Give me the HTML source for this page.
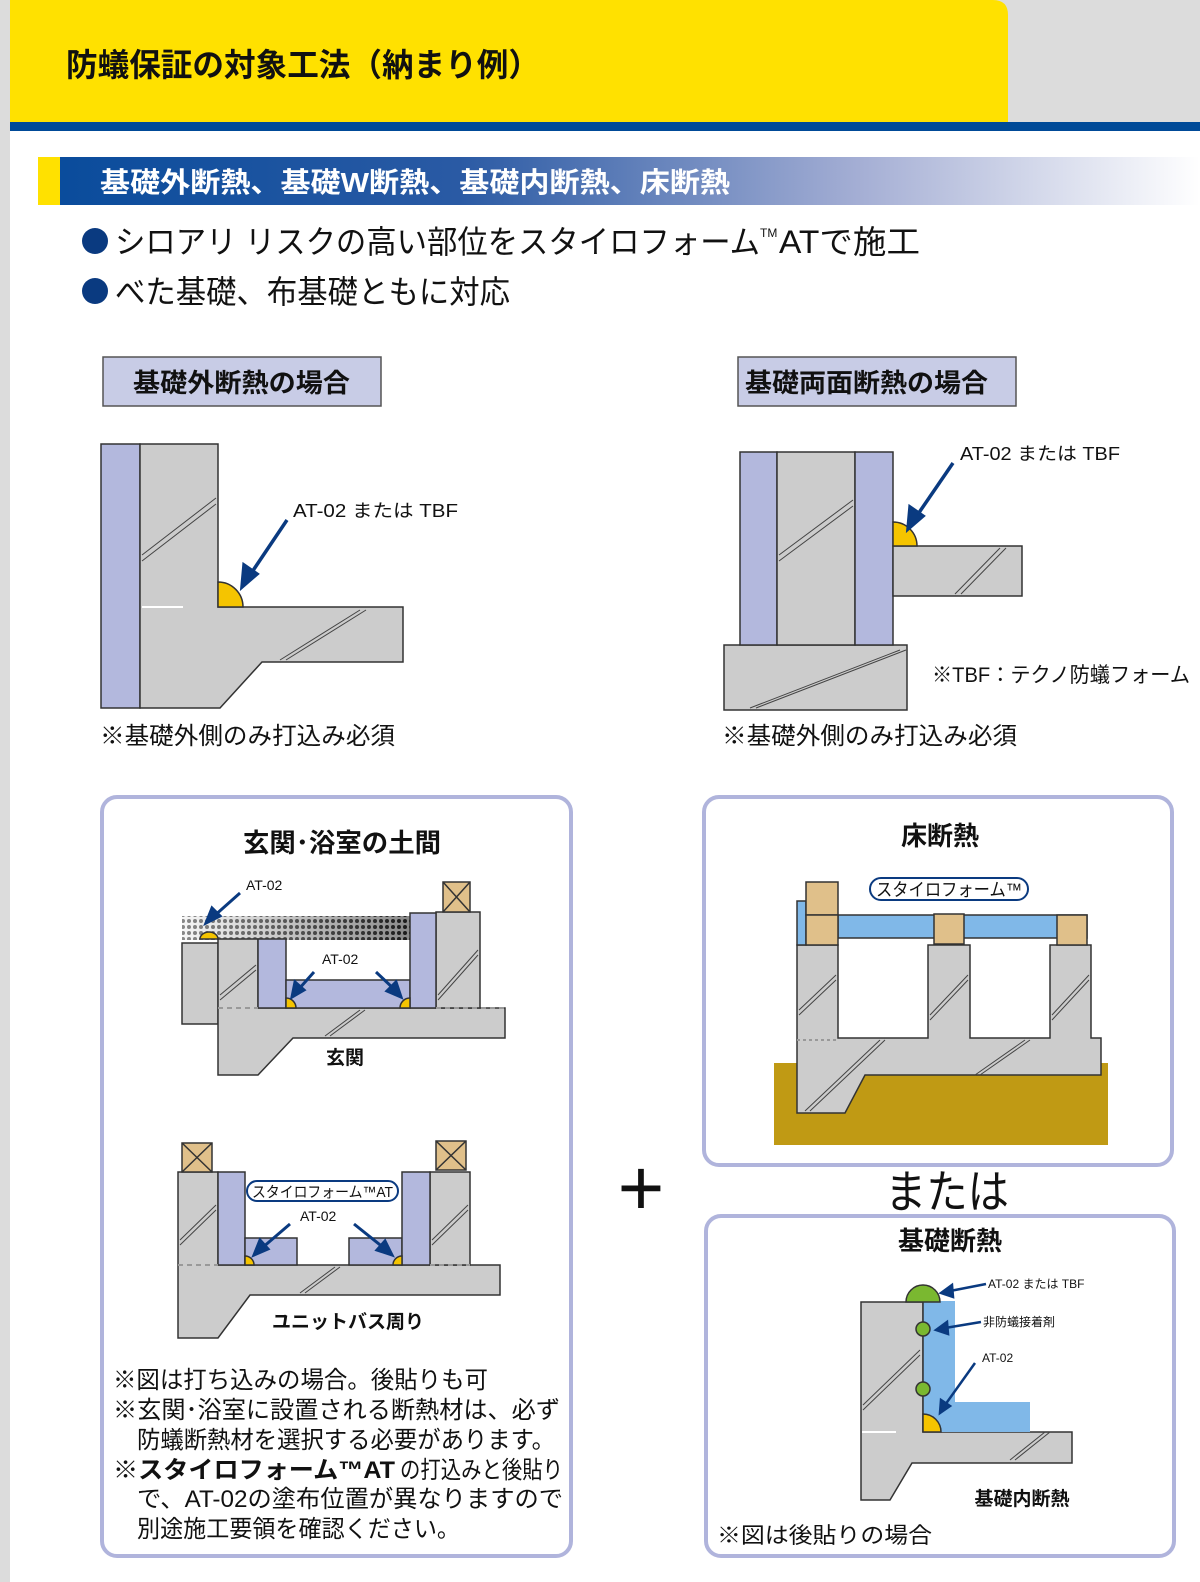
<!DOCTYPE html>
<html><head><meta charset="utf-8"><style>
html,body{margin:0;padding:0;background:#fff}
svg{display:block}
text{font-family:"Liberation Sans","Noto Sans CJK JP",sans-serif}
</style></head><body>
<svg width="1200" height="1582" viewBox="0 0 1200 1582" xmlns="http://www.w3.org/2000/svg">
<defs>
<linearGradient id="hg" x1="0" x2="1" y1="0" y2="0">
<stop offset="0" stop-color="#0a4c9c"/><stop offset="0.35" stop-color="#2a5aa4"/><stop offset="0.7" stop-color="#a4aed4"/><stop offset="1" stop-color="#fff"/>
</linearGradient>
<linearGradient id="dg" x1="0" x2="1"><stop offset="0" stop-color="#eee"/><stop offset="1" stop-color="#111"/></linearGradient>
<pattern id="dots" width="6" height="6" patternUnits="userSpaceOnUse"><rect width="6" height="6" fill="#fff"/><circle cx="3" cy="3" r="2" fill="#222"/></pattern>
</defs>
<rect width="1200" height="1582" fill="#dcdcdc"/>
<rect x="10" y="131" width="1190" height="1451" fill="#fff"/>
<path d="M10 0 H993 Q1008 0 1008 15 V122 H10Z" fill="#ffe100"/>
<rect x="10" y="122" width="1190" height="9" fill="#004a98"/>
<text x="66" y="76" font-size="32" font-weight="bold" fill="#111" textLength="474" lengthAdjust="spacingAndGlyphs">防蟻保証の対象工法（納まり例）</text>
<rect x="38" y="157" width="22" height="48" fill="#ffe100"/>
<rect x="60" y="157" width="1140" height="48" fill="url(#hg)"/>
<text x="100" y="192" font-size="28" font-weight="bold" fill="#fff" textLength="630" lengthAdjust="spacingAndGlyphs">基礎外断熱、基礎W断熱、基礎内断熱、床断熱</text>
<circle cx="95" cy="241" r="13" fill="#0a3a80"/>
<text x="115" y="253" font-size="32" fill="#111" textLength="645" lengthAdjust="spacingAndGlyphs">シロアリ リスクの高い部位をスタイロフォーム</text>
<text x="760" y="237" font-size="12" fill="#111">TM</text>
<text x="779" y="253" font-size="32" fill="#111" textLength="141" lengthAdjust="spacingAndGlyphs">ATで施工</text>
<circle cx="95" cy="291" r="13" fill="#0a3a80"/>
<text x="115" y="303" font-size="32" fill="#111" textLength="395" lengthAdjust="spacingAndGlyphs">べた基礎、布基礎ともに対応</text>

<rect x="103" y="357" width="278" height="49" fill="#c8cce6" stroke="#555" stroke-width="1.5"/>
<text x="133" y="392" font-size="26" font-weight="bold" fill="#111" textLength="217" lengthAdjust="spacingAndGlyphs">基礎外断熱の場合</text>
<rect x="738" y="357" width="278" height="49" fill="#c8cce6" stroke="#555" stroke-width="1.5"/>
<text x="745" y="392" font-size="26" font-weight="bold" fill="#111" textLength="243" lengthAdjust="spacingAndGlyphs">基礎両面断熱の場合</text>

<g stroke="#333" stroke-width="1.5">
<rect x="101" y="444" width="39" height="264" fill="#b3b8dd"/>
<path d="M140 444 H218 V607 H403 V662 H262 L220 708 H140Z" fill="#cccccc"/>
<path d="M218 607 V582 A25 25 0 0 1 243 607Z" fill="#f5c400"/>
<rect x="724" y="645" width="183" height="65" fill="#cccccc"/>
<rect x="740" y="452" width="37" height="193" fill="#b3b8dd"/>
<rect x="777" y="452" width="78" height="193" fill="#cccccc"/>
<rect x="855" y="452" width="38" height="193" fill="#b3b8dd"/>
<rect x="893" y="546" width="129" height="50" fill="#cccccc"/>
<path d="M893 546 V522 A24 24 0 0 1 917 546Z" fill="#f5c400"/>
</g>
<g stroke="#444" stroke-width="1"><path d="M142 555 L216 498 M142 561 L216 504"/><path d="M280 660 L360 610 M286 660 L366 610"/><path d="M779 555 L853 500 M779 561 L853 506"/><path d="M750 708 L900 650 M756 708 L906 650"/><path d="M955 594 L1000 548 M961 594 L1006 548"/></g>
<path d="M142 607 H183" stroke="#fff" stroke-width="2"/>
<g stroke="#0a3a80" stroke-width="3.5" fill="#0a3a80">
<line x1="287" y1="520" x2="250" y2="575"/><path d="M242 587 L244 565 L257 574Z"/>
<line x1="953" y1="463" x2="916" y2="517"/><path d="M908 529 L910 507 L923 516Z"/>
</g>
<text x="293" y="517" font-size="18" fill="#111" textLength="165" lengthAdjust="spacingAndGlyphs">AT-02 または TBF</text>
<text x="960" y="460" font-size="18" fill="#111" textLength="160" lengthAdjust="spacingAndGlyphs">AT-02 または TBF</text>
<text x="932" y="682" font-size="21" fill="#111" textLength="258" lengthAdjust="spacingAndGlyphs">※TBF：テクノ防蟻フォーム</text>
<text x="100" y="744" font-size="24" fill="#111" textLength="295" lengthAdjust="spacingAndGlyphs">※基礎外側のみ打込み必須</text>
<text x="722" y="744" font-size="24" fill="#111" textLength="295" lengthAdjust="spacingAndGlyphs">※基礎外側のみ打込み必須</text>

<rect x="102" y="797" width="469" height="759" rx="15" fill="#fff" stroke="#b0b4dc" stroke-width="4"/>
<rect x="704" y="797" width="468" height="368" rx="15" fill="#fff" stroke="#b0b4dc" stroke-width="4"/>
<rect x="706" y="1216" width="468" height="340" rx="15" fill="#fff" stroke="#b0b4dc" stroke-width="4"/>
<text x="641" y="1215" font-size="80" text-anchor="middle" fill="#111">+</text>
<text x="885" y="1208" font-size="46" fill="#111" textLength="124" lengthAdjust="spacingAndGlyphs">または</text>

<text x="243" y="852" font-size="26" font-weight="bold" fill="#111" textLength="198" lengthAdjust="spacingAndGlyphs">玄関･浴室の土間</text>
<rect x="182" y="916" width="230" height="24" fill="url(#dots)"/>
<rect x="182" y="916" width="230" height="24" fill="url(#dg)" opacity="0.5"/>
<g stroke="#333" stroke-width="1.5">
<rect x="182" y="943" width="36" height="81" fill="#cccccc"/>
<path d="M218 939 H258 V1008 H505 V1038 H293 L258 1075 H218Z" fill="#cccccc"/>
<rect x="436" y="912" width="44" height="96" fill="#cccccc"/>
<rect x="258" y="939" width="28" height="69" fill="#b3b8dd"/>
<rect x="286" y="980" width="124" height="28" fill="#b3b8dd"/>
<rect x="410" y="913" width="26" height="95" fill="#b3b8dd"/>
<rect x="443" y="882" width="27" height="30" fill="#e0c08a"/><path d="M443 882 L470 912 M470 882 L443 912"/>
<path d="M200 939 A9 7 0 0 1 218 939Z" fill="#f5c400"/>
<path d="M286 1008 V998 A10 10 0 0 1 296 1008Z" fill="#f5c400"/>
<path d="M410 1008 V998 A10 10 0 0 0 400 1008Z" fill="#f5c400"/>
</g>
<g stroke="#444"><path d="M220 995 L256 965 M220 1000 L256 970 M438 995 L478 950 M438 1000 L478 955 M325 1036 L360 1010 M330 1036 L365 1010"/></g>
<path d="M218 1008 H258 M436 1008 H505" stroke="#999" stroke-dasharray="5 4" stroke-width="2"/>
<g stroke="#0a3a80" stroke-width="3" fill="#0a3a80">
<line x1="240" y1="893" x2="213" y2="917"/><path d="M206 923 L212 908 L220 916Z"/>
<line x1="314" y1="972" x2="298" y2="990"/><path d="M292 997 L295 982 L304 990Z"/>
<line x1="376" y1="972" x2="395" y2="990"/><path d="M401 997 L387 991 L396 982Z"/>
</g>
<text x="246" y="890" font-size="14" fill="#111">AT-02</text>
<text x="322" y="964" font-size="14" fill="#111">AT-02</text>
<text x="345" y="1064" font-size="19" font-weight="bold" text-anchor="middle" fill="#111">玄関</text>

<g stroke="#333" stroke-width="1.5">
<path d="M178 1172 H218 V1265 H500 V1295 H250 L218 1338 H178Z" fill="#cccccc"/>
<rect x="430" y="1172" width="40" height="93" fill="#cccccc"/>
<rect x="218" y="1172" width="27" height="93" fill="#b3b8dd"/>
<rect x="245" y="1238" width="52" height="27" fill="#b3b8dd"/>
<rect x="349" y="1238" width="53" height="27" fill="#b3b8dd"/>
<rect x="402" y="1172" width="28" height="93" fill="#b3b8dd"/>
<rect x="182" y="1143" width="30" height="29" fill="#e0c08a"/><path d="M182 1143 L212 1172 M212 1143 L182 1172"/>
<rect x="436" y="1141" width="30" height="29" fill="#e0c08a"/><path d="M436 1141 L466 1170 M466 1141 L436 1170"/>
<path d="M245 1265 V1256 A9 9 0 0 1 254 1265Z" fill="#f5c400"/>
<path d="M402 1265 V1256 A9 9 0 0 0 393 1265Z" fill="#f5c400"/>
</g>
<g stroke="#444"><path d="M180 1240 L216 1205 M180 1245 L216 1210 M432 1240 L468 1205 M432 1245 L468 1210 M300 1293 L335 1267 M305 1293 L340 1267"/></g>
<path d="M178 1265 H218 M430 1265 H470" stroke="#999" stroke-dasharray="5 4" stroke-width="2"/>
<rect x="247" y="1181" width="151" height="20" rx="10" fill="#fff" stroke="#0a3a80" stroke-width="2"/>
<text x="252" y="1197" font-size="15" fill="#111" textLength="141" lengthAdjust="spacingAndGlyphs">スタイロフォーム™AT</text>
<text x="300" y="1221" font-size="14" fill="#111">AT-02</text>
<g stroke="#0a3a80" stroke-width="3" fill="#0a3a80">
<line x1="290" y1="1224" x2="262" y2="1248"/><path d="M254 1255 L260 1240 L268 1249Z"/>
<line x1="354" y1="1224" x2="384" y2="1248"/><path d="M392 1255 L377 1250 L385 1241Z"/>
</g>
<text x="348" y="1328" font-size="19" font-weight="bold" text-anchor="middle" fill="#111">ユニットバス周り</text>

<g font-size="24" fill="#111">
<text x="113" y="1388" textLength="375" lengthAdjust="spacingAndGlyphs">※図は打ち込みの場合。後貼りも可</text>
<text x="113" y="1418" textLength="447" lengthAdjust="spacingAndGlyphs">※玄関･浴室に設置される断熱材は、必ず</text>
<text x="137" y="1448" textLength="418" lengthAdjust="spacingAndGlyphs">防蟻断熱材を選択する必要があります。</text>
<text x="113" y="1478" font-weight="bold" textLength="282" lengthAdjust="spacingAndGlyphs">※スタイロフォーム™AT</text>
<text x="400" y="1478" textLength="163" lengthAdjust="spacingAndGlyphs">の打込みと後貼り</text>
<text x="137" y="1507" textLength="426" lengthAdjust="spacingAndGlyphs">で、AT-02の塗布位置が異なりますので</text>
<text x="137" y="1537" textLength="323" lengthAdjust="spacingAndGlyphs">別途施工要領を確認ください。</text>
</g>

<text x="940" y="845" font-size="26" font-weight="bold" text-anchor="middle" fill="#111">床断熱</text>
<rect x="774" y="1063" width="334" height="82" fill="#c09a14"/>
<g stroke="#333" stroke-width="1.5">
<path d="M797 945 H838 V1038 H928 V945 H970 V1038 H1050 V945 H1091 V1038 H1101 V1075 H865 L845 1113 H797Z" fill="#cccccc"/>
<rect x="797" y="901" width="9" height="44" fill="#80b8e8"/>
<rect x="838" y="915" width="249" height="23" fill="#80b8e8"/>
<rect x="806" y="882" width="32" height="33" fill="#e0c08a"/>
<rect x="806" y="915" width="32" height="30" fill="#e0c08a"/>
<rect x="934" y="914" width="30" height="30" fill="#e0c08a"/>
<rect x="1057" y="915" width="30" height="30" fill="#e0c08a"/>
</g>
<g stroke="#444"><path d="M799 1010 L836 975 M799 1015 L836 980 M930 1015 L968 975 M930 1020 L968 980 M1052 1015 L1089 975 M1052 1020 L1089 980 M805 1111 L880 1040 M810 1111 L885 1040 M975 1075 L1025 1040 M980 1075 L1030 1040"/></g>
<path d="M797 1040 H838" stroke="#999" stroke-dasharray="3 3" stroke-width="2"/>
<rect x="870" y="878" width="158" height="22" rx="11" fill="#fff" stroke="#0a3a80" stroke-width="2"/>
<text x="876" y="896" font-size="18" fill="#111" textLength="146" lengthAdjust="spacingAndGlyphs">スタイロフォーム™</text>

<text x="950" y="1250" font-size="26" font-weight="bold" text-anchor="middle" fill="#111">基礎断熱</text>
<g stroke="#333" stroke-width="1.5">
<path d="M861 1302 H923 V1432 H1072 V1463 H912 L890 1500 H861Z" fill="#cccccc"/>
<path d="M923 1301 H955 V1402 H1030 V1432 H923Z" fill="#80b8e8" stroke="none"/>
<line x1="923" y1="1302" x2="923" y2="1432"/>
<path d="M906 1302 A17 17 0 0 1 940 1302Z" fill="#7ab830"/>
<circle cx="923" cy="1329" r="7" fill="#7ab830"/>
<circle cx="923" cy="1389" r="7" fill="#7ab830"/>
<path d="M923 1432 V1414 A18 18 0 0 1 941 1432Z" fill="#f5c400"/>
</g>
<g stroke="#444"><path d="M863 1405 L920 1350 M863 1410 L920 1355 M1010 1460 L1045 1432 M1015 1460 L1050 1432"/></g>
<path d="M862 1432 H896" stroke="#fff" stroke-width="2"/>
<g stroke="#0a3a80" stroke-width="2.5" fill="#0a3a80">
<line x1="986" y1="1284" x2="950" y2="1291"/><path d="M941 1293 L952 1285 L953 1297Z"/>
<line x1="981" y1="1322" x2="945" y2="1328"/><path d="M936 1330 L947 1322 L948 1334Z"/>
<line x1="975" y1="1363" x2="945" y2="1405"/><path d="M940 1413 L941 1400 L950 1406Z"/>
</g>
<text x="988" y="1288" font-size="12" fill="#111">AT-02 または TBF</text>
<text x="983" y="1326" font-size="12" fill="#111">非防蟻接着剤</text>
<text x="982" y="1362" font-size="12" fill="#111">AT-02</text>
<text x="1022" y="1505" font-size="19" font-weight="bold" text-anchor="middle" fill="#111">基礎内断熱</text>
<text x="717" y="1543" font-size="22" fill="#111" textLength="215" lengthAdjust="spacingAndGlyphs">※図は後貼りの場合</text>
</svg>
</body></html>
